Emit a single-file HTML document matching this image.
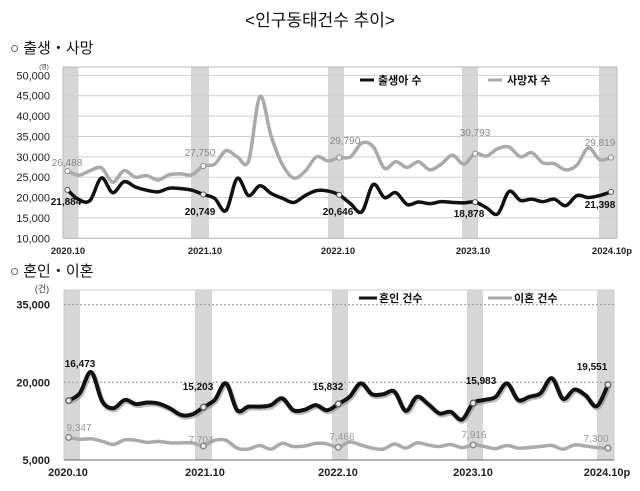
<!DOCTYPE html>
<html><head><meta charset="utf-8"><style>
body{margin:0;background:#fff;width:640px;height:486px;overflow:hidden;font-family:"Liberation Sans","Noto Sans CJK KR",sans-serif}
svg text{font-family:"Liberation Sans","Noto Sans CJK KR",sans-serif}
</style></head><body>
<svg id="s" width="640" height="486" xmlns="http://www.w3.org/2000/svg">
<text x="320" y="26" font-size="17" text-anchor="middle" fill="#111">&lt;인구동태건수 추이&gt;</text>
<text x="10" y="53" font-size="15" fill="#111">○ 출생・사망</text>
<text x="10" y="276" font-size="15" fill="#111">○ 혼인・이혼</text>
<g id="c"></g>
</svg>
<script>
var g=document.getElementById('c'),h='';
function band(xs,y0,y1){xs.forEach(function(b){h+='<rect x="'+b[0]+'" y="'+y0+'" width="'+(b[1]-b[0])+'" height="'+(y1-y0)+'" fill="#d6d6d6"/>';});}
function path(vals,x0,x1,fy){var n=vals.length,st=(x1-x0)/(n-1),p=vals.map(function(v,i){return [x0+i*st,fy(v)];});
var d='M'+p[0][0]+','+p[0][1];for(var i=0;i<n-1;i++){var a=p[i-1]||p[i],b=p[i],c=p[i+1],e=p[i+2]||c;
d+=' C'+(b[0]+(c[0]-a[0])/6)+','+(b[1]+(c[1]-a[1])/6)+' '+(c[0]-(e[0]-b[0])/6)+','+(c[1]-(e[1]-b[1])/6)+' '+c[0]+','+c[1];}return {d:d,p:p};}
function txt(x,y,s,fs,col,bold,anc){h+='<text x="'+x+'" y="'+y+'" font-size="'+fs+'" fill="'+col+'"'+(bold?' font-weight="bold"':'')+' text-anchor="'+(anc||'middle')+'">'+s+'</text>';}
// chart1
var f1=function(v){return 238.3-(v-10000)/5000*20.37;};
band([[63,78.5],[191,209],[328,344],[462,478],[599,617]],67,238.3);
for(var v=10000;v<=50000;v+=5000){var y=f1(v);h+='<line x1="63" x2="617" y1="'+y+'" y2="'+y+'" stroke="#cfcfcf" stroke-width="1"/>';txt(50,y+4,(v/1000)+',000',11,'#222',false,'end');}
h+='<rect x="63" y="67" width="554" height="171.3" fill="none" stroke="#bbb"/>';
txt(44,69,'(명)',6,'#333');
var birth=[21884,19500,19300,24800,21200,23900,22600,21800,21400,22300,22200,21800,20749,19800,16800,24700,20500,22900,21000,19800,18800,20500,21700,21600,20646,18500,16500,23200,20000,21200,18300,18900,18500,19000,18800,18700,18878,17500,16000,21500,19300,19600,19000,19600,18000,20500,20000,20500,21398];
var death=[26488,25500,26600,27300,23800,26600,25000,25400,24300,25600,25800,25600,27750,28200,31500,30000,29000,44800,35000,28000,24800,26500,30000,29000,29790,30000,33400,32500,27200,28800,27400,28800,26800,28200,30400,28200,30793,30200,32000,32400,30000,31000,28500,28300,26800,28000,32200,29300,29819];
var a=path(death,67.4,611,f1),b=path(birth,67.4,611,f1);
h+='<path d="'+a.d+'" fill="none" stroke="#aaa" stroke-width="3.5"/>';
h+='<path d="'+b.d+'" fill="none" stroke="#111" stroke-width="3.5"/>';
[0,12,24,36,48].forEach(function(i){h+='<circle cx="'+a.p[i][0]+'" cy="'+a.p[i][1]+'" r="2.5" fill="#fff" stroke="#888"/>';h+='<circle cx="'+b.p[i][0]+'" cy="'+b.p[i][1]+'" r="2.5" fill="#fff" stroke="#555"/>';});
[[67,166,'26,488'],[200,156,'27,750'],[345,144,'29,790'],[475,136,'30,793'],[600,146,'29,819']].forEach(function(t){txt(t[0],t[1],t[2],10,'#888');});
[[66,205,'21,884'],[200,215,'20,749'],[338,215,'20,646'],[469,217,'18,878'],[600,208,'21,398']].forEach(function(t){txt(t[0],t[1],t[2],10,'#111',true);});
h+='<line x1="360" x2="374" y1="80" y2="80" stroke="#111" stroke-width="3"/>';txt(378,84,'출생아 수',11,'#111',true,'start');
h+='<line x1="488" x2="502" y1="80" y2="80" stroke="#aaa" stroke-width="3"/>';txt(507,84,'사망자 수',11,'#111',true,'start');
[[68,'2020.10'],[205,'2021.10'],[338,'2022.10'],[473,'2023.10'],[612,'2024.10p']].forEach(function(t){txt(t[0],254,t[1],9.5,'#222',true);});
// chart2
var f2=function(v){return 460-(v-5000)/15000*77.7;};
band([[64,80],[195,212],[332,348],[467,483],[597,614]],290,460);
h+='<rect x="64" y="290" width="550" height="170" fill="none" stroke="#ccc"/>';
[35000,20000].forEach(function(v){var y=f2(v);h+='<line x1="64" x2="614" y1="'+y+'" y2="'+y+'" stroke="#999" stroke-dasharray="2,2"/>';});
[[35000,'35,000'],[20000,'20,000'],[5000,'5,000']].forEach(function(t){txt(50,f2(t[0])+4,t[1],11,'#222',true,'end');});
h+='<line x1="64" x2="614" y1="460" y2="460" stroke="#666"/>';
txt(42,292,'(건)',9,'#333');
var mar=[16473,17900,22000,16300,15000,16600,15800,16100,15900,15000,13700,13800,15203,16600,19800,14600,15300,15300,15600,16900,14600,14700,15600,14600,15832,17200,19800,17700,17700,18200,14500,17200,15800,14000,14300,12800,15983,16600,17200,19800,16600,17200,17900,20800,16800,18600,17500,15400,19551];
var div=[9347,9000,9100,8600,8000,8900,8800,8400,8600,8300,8300,8300,7704,8800,8800,7300,7100,7800,7100,8200,7600,7700,8200,8100,7466,8500,7900,7300,7100,8100,7300,8300,7900,7600,8000,7400,7916,7600,7200,7800,7300,7400,7600,7800,7100,7900,7700,7400,7300];
var m=path(mar,68.6,608,f2),dv=path(div,68.6,608,f2);
h+='<path d="'+dv.d+'" fill="none" stroke="#aaa" stroke-width="3.5"/>';
h+='<path d="'+m.d+'" fill="none" stroke="#777" stroke-width="5" transform="translate(1,1.5)" opacity=".5"/>';
h+='<path d="'+m.d+'" fill="none" stroke="#111" stroke-width="4"/>';
[0,12,24,36,48].forEach(function(i){h+='<circle cx="'+dv.p[i][0]+'" cy="'+dv.p[i][1]+'" r="2.8" fill="#eee" stroke="#888" stroke-width="1.5"/>';h+='<circle cx="'+m.p[i][0]+'" cy="'+m.p[i][1]+'" r="2.8" fill="#eee" stroke="#666" stroke-width="1.5"/>';});
[[80,367,'16,473'],[198,390,'15,203'],[328,390,'15,832'],[481,384,'15,983'],[592,370,'19,551']].forEach(function(t){txt(t[0],t[1],t[2],10,'#111',true);});
[[79,431,'9,347'],[201,443,'7,704'],[342,440,'7,466'],[474,438,'7,916'],[596,442,'7,300']].forEach(function(t){txt(t[0],t[1],t[2],10,'#999');});
h+='<line x1="359" x2="377" y1="298" y2="298" stroke="#111" stroke-width="3"/>';txt(379,302,'혼인 건수',11,'#111',true,'start');
h+='<line x1="488" x2="512" y1="298" y2="298" stroke="#aaa" stroke-width="3"/>';txt(514,302,'이혼 건수',11,'#111',true,'start');
[[68,'2020.10'],[205,'2021.10'],[338,'2022.10'],[473,'2023.10'],[607,'2024.10p']].forEach(function(t){txt(t[0],476,t[1],11,'#222',true);});
g.innerHTML=h;
</script>
</body></html>
